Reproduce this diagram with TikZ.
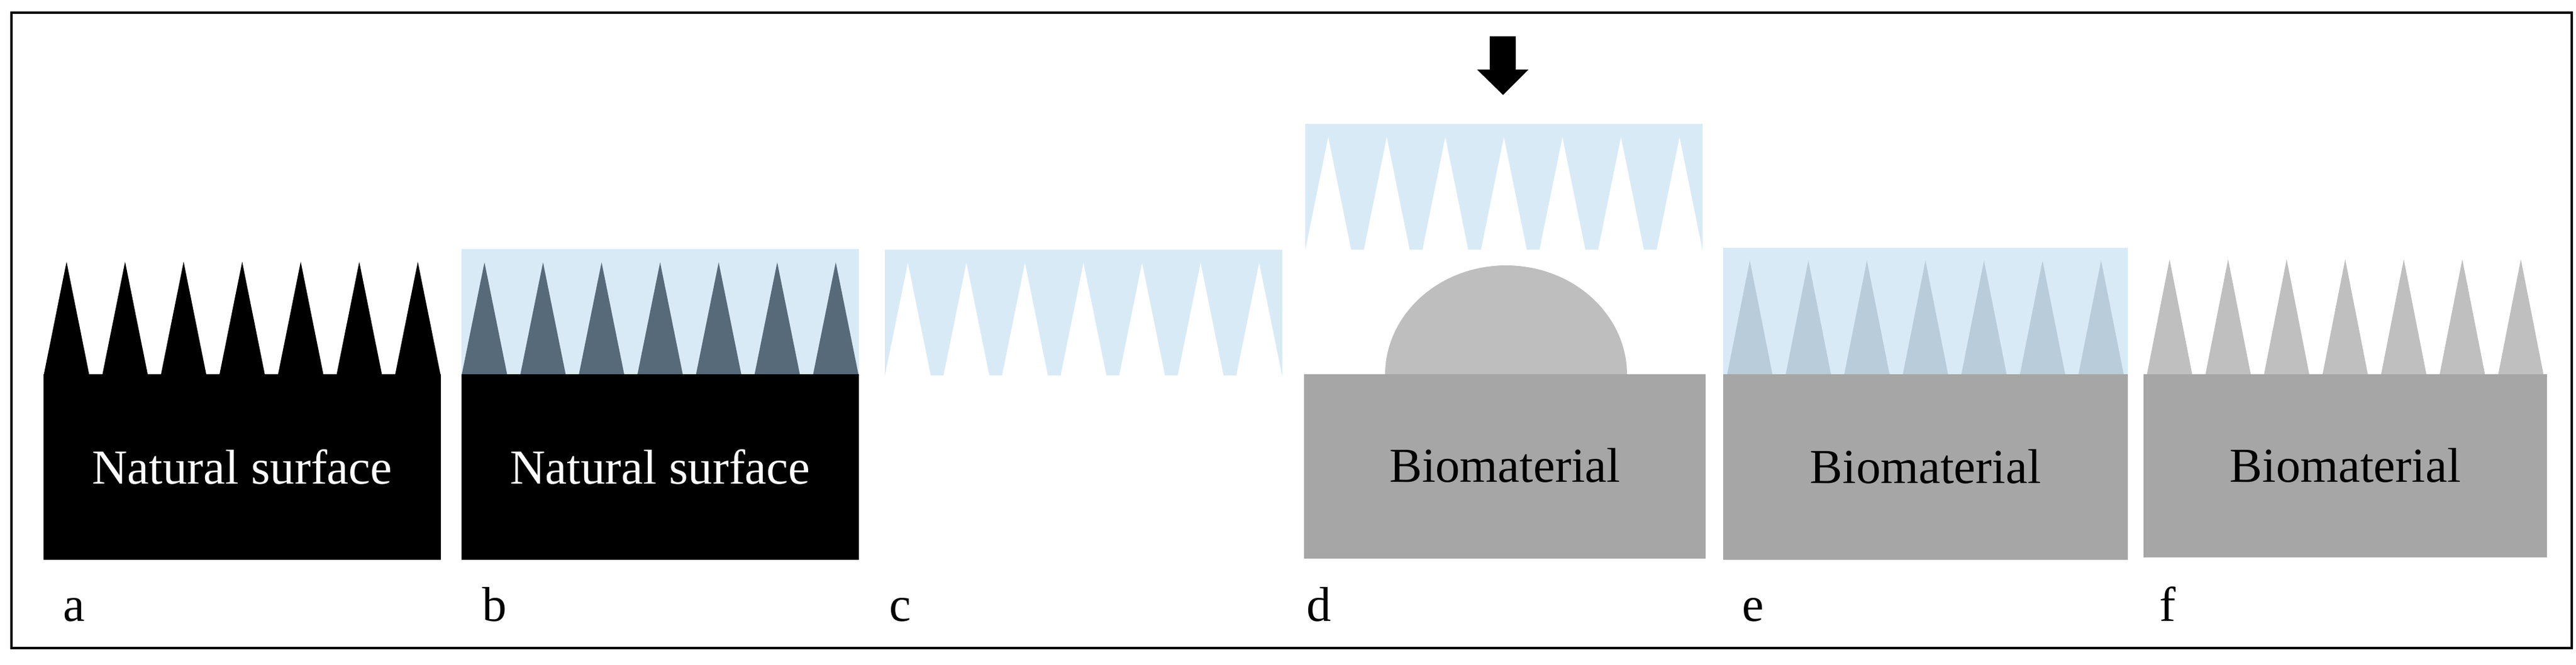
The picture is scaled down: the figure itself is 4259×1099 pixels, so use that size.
\documentclass[tikz,border=0pt]{standalone}
\usepackage{fontspec}
\setmainfont{Liberation Serif}
\definecolor{mold}{HTML}{D9EAF7}
\definecolor{slate}{HTML}{566A7A}
\definecolor{paleslate}{HTML}{B9CCD9}
\definecolor{spikegray}{HTML}{BFBFBF}
\definecolor{bodygray}{HTML}{A6A6A6}
\definecolor{domegray}{HTML}{BEBEBE}
\newcommand{\spikes}[3]{% left x, tip y, colour
  \foreach \i in {0,...,6}{\fill[#3] ({#1+38+96.8*\i},#2) -- ({#1+96.8*\i},622) -- ({#1+76+96.8*\i},622) -- cycle;}}
\newcommand{\moldstrip}[2]{% left x, top y
  \fill[mold] (#1,#2) rectangle ({#1+657},{#2+208});
  \foreach \i in {0,...,6}{\fill[white] ({#1+38+96.8*\i},{#2+22}) -- ++(-38,187) -- ++(76,0) -- cycle;}}
\begin{document}
\begin{tikzpicture}[x=0.01cm,y=-0.01cm,
  lbl/.style={font=\fontsize{23}{26}\selectfont},
  sublbl/.style={font=\fontsize{23}{26}\selectfont,anchor=base west,inner sep=0}]
\useasboundingbox (0,0) rectangle (4259,1099);
\draw[line width=0.9pt] (19,21) rectangle (4252,1072);
% a
\spikes{72}{433}{black}
\fill[black] (72,619) rectangle (729,926);
\node[lbl,text=white] (ta) at (400.5,772) {Natural surface};
% b
\fill[mold] (763,412) rectangle (1420,620);
\spikes{763}{434}{slate}
\fill[black] (763,619) rectangle (1420,926);
\node[lbl,text=white] (tb) at (1091.5,772) {Natural surface};
% c
\moldstrip{1463}{413}
% d
\moldstrip{2158}{205}
\fill[domegray] (2290,620) arc[start angle=180,end angle=360,x radius=200,y radius=181] -- cycle;
\fill[bodygray] (2156,619) rectangle (2820,924);
\node[lbl] (td) at (2488,770) {Biomaterial};
\fill[black] (2463,60) -- (2506,60) -- (2506,115) -- (2527,115) -- (2485,157) -- (2442,115) -- (2463,115) -- cycle;
% e
\fill[mold] (2849,410) rectangle (3518,620);
\spikes{2855}{431}{paleslate}
\fill[bodygray] (2849,619) rectangle (3518,926);
\node[lbl] (te) at (3183.5,772) {Biomaterial};
% f
\spikes{3549}{429}{spikegray}
\fill[bodygray] (3544,619) rectangle (4211,922);
\node[lbl] (tf) at (3877.5,770) {Biomaterial};
% labels
\node[sublbl] (la) at (104,1027) {a};
\node[sublbl] (lb) at (797,1027) {b};
\node[sublbl] (lc) at (1470,1027) {c};
\node[sublbl] (ld) at (2160,1027) {d};
\node[sublbl] (le) at (2880,1027) {e};
\node[sublbl] (lf) at (3570,1027) {f};
\end{tikzpicture}
\end{document}
